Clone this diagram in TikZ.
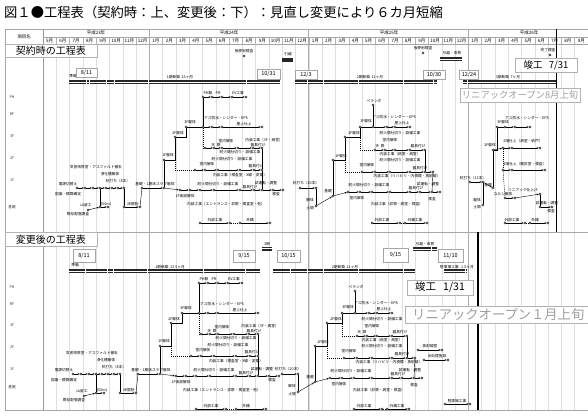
\documentclass[tikz,border=0pt]{standalone}
\usepackage{fontspec}
\setmainfont{Noto Sans CJK JP}
\usetikzlibrary{arrows.meta}
\tikzset{
 tl/.style={font=\fontsize{3.7}{4.1}\selectfont, inner sep=0pt},
 flr/.style={font=\fontsize{3.6}{4}\selectfont, inner sep=0pt, text=black!80},
 mon/.style={font=\fontsize{4.5}{5}\selectfont, inner sep=0pt},
 ev/.style={circle, draw=black, fill=white, line width=0.3pt, minimum size=2.2pt, inner sep=0pt},
 act/.style={line width=0.4pt, -{Stealth[length=2.2pt,width=1.8pt]}},
 lnk/.style={line width=0.4pt},
 dsh/.style={line width=0.4pt, dash pattern=on 1.2pt off 0.8pt},
 datebox/.style={draw=gray!70, fill=white, line width=0.4pt, font=\fontsize{5.5}{6}\selectfont, inner sep=0pt},
 bigbox/.style={draw=gray!60, fill=white, line width=0.5pt, inner sep=0pt},
 barfill/.style={fill=black!85},
 barline/.style={draw=white, line width=0.35pt},
 tick/.style={draw=white, line width=0.8pt},
 grid/.style={draw=gray!25, line width=0.3pt},
 frame/.style={draw=gray!70, line width=0.5pt},
}
\newcommand{\PhaseOne}[1]{%
\node[tl] (#1t1) at (96,167) {気密改修室・アスファルト撤去};
\node[tl] (#1t2) at (110,174) {浄化槽解体};
\node[tl] (#1t3) at (118,181) {杭打ち（8本）};
\node[tl] (#1t4) at (155,184.5) {基礎・1期床スラブ躯体};
\node[tl] (#1t5) at (68,184) {電源切替え};
\node[tl] (#1t6) at (68,194) {図面・積算確定};
\node[tl] (#1t7) at (86,205) {山留工};
\node[tl] (#1t8) at (106,204) {(50m)};
\node[tl] (#1t9) at (78,214) {既存配管調査};
\node[tl] (#1t10) at (133,204) {床掘削};
\node[tl] (#1t11) at (168,155) {1F躯体};
\node[tl] (#1t12) at (178,133) {2F躯体};
\node[tl] (#1t13) at (190,122) {3F躯体};
\node[tl] (#1t14) at (208,93) {PH躯};
\node[tl] (#1t15) at (218,93) {PR};
\node[tl] (#1t16) at (238,93) {EV工事};
\node[tl] (#1t17) at (226,118) {アス防水・シンダー・EPS};
\node[tl] (#1t18) at (244,124) {屋上仕上};
\node[tl] (#1t19) at (226,141) {室内解体};
\node[tl] (#1t20) at (264,140) {内装工事（3F・病室）};
\node[tl] (#1t21) at (216,145) {天\ \ 鉄};
\node[tl] (#1t22) at (258,145) {器具付け};
\node[tl] (#1t23) at (240,152.5) {耐火間仕切り・設備工事};
\node[tl] (#1t24) at (232,159) {耐火間仕切り・設備工事};
\node[tl] (#1t25) at (207,164) {室内解体};
\node[tl] (#1t26) at (256,166.5) {器具付け};
\node[tl] (#1t27) at (240,175.5) {内装工事（検査室・X線・変電）};
\node[tl] (#1t28) at (218,184) {耐火間仕切り・設備工事};
\node[tl] (#1t29) at (266,183.5) {試運転・調整};
\node[tl] (#1t30) at (185,196) {1F仮設解体};
\node[tl] (#1t31) at (250,187) {器具付け};
\node[tl] (#1t32) at (276,194) {検査};
\node[tl] (#1t33) at (226,204) {内装工事（エントランス・診察・検査室・他）};
\node[tl] (#1t34) at (215,220) {外部工事};
\node[tl] (#1t35) at (250,220) {外構};
\foreach \n/\x/\y in {a/77/188,b/85/188,c/93/188,d/100/188,e/106/188,f/112/188,g/118/188,h/124/188,i/124/207,j/140/207,k/142/188,l/164/188,m/100/207,n/108/207,o/88/210,q/164/160,r/175/137,s/186/127,u/203/127,t/203/97,ph1/212/97,ph2/222/97,ph3/232/97,ph4/246/97,w1/212/127,w2/222/127,w3/262/127,x1/205/148,x2/214/148,x3/222/148,x4/238/148,x5/253/148,x6/262/148,y1/195/170,y2/205/170,y3/218/170,y4/240/170,y5/254/170,y6/262/170,z1/180/190,z2/190/190,z3/200/190,z4/214/190,z5/240/190,z6/254/190,z7/262/190,z8/273/190,z9/283/190,v1/200/223,v2/230/223,v3/240/223,v4/270/223}
  \node[ev] (#1\n) at (\x,\y) {};
\foreach \s/\e in {a/b,b/c,c/d,d/e,e/f,f/g,g/h,i/j,k/l,m/n,o/m,t/ph1,ph1/ph2,ph2/ph3,ph3/ph4,u/w1,w1/w2,w2/w3,x1/x2,x2/x3,x3/x4,x4/x5,x5/x6,y1/y2,y2/y3,y3/y4,y4/y5,y5/y6,z1/z2,z2/z3,z3/z4,z4/z5,z5/z6,z6/z7,z7/z8,z8/z9,v1/v2,v3/v4,l/z1}
  \draw[act] (#1\s) -- (#1\e);
\draw[lnk] (#1h) -- (#1i);
\draw[lnk] (#1j) -- (#1k);
\draw[lnk] (#1d) -- (#1m);
\draw[lnk] (#1l) -- (#1q);
\draw[lnk] (#1q) -| (#1r);
\draw[lnk] (#1r) -| (#1s);
\draw[lnk] (#1s) -- (#1u);
\draw[lnk] (#1u) -- (#1t);
\draw[dsh] (#1u) |- (#1x1);
\draw[dsh] (#1r) |- (#1y1);
\draw[lnk] (#1x6) -- (#1y6);
\draw[lnk] (#1y6) -- (#1z7);
\draw[dsh] (#1v2) -- (#1v3);
}
\newcommand{\PhaseTwo}[1]{%
\node[tl] (#1t1) at (306,183) {杭打ち（20本）};
\node[tl] (#1t2) at (310,200) {解体};
\node[tl] (#1t3) at (310,208) {土間};
\node[tl] (#1t4) at (328,191) {基礎};
\node[tl] (#1t5) at (341,156) {1F躯体};
\node[tl] (#1t6) at (354,133) {2F躯体};
\node[tl] (#1t7) at (366,121.5) {3F躯体};
\node[tl] (#1t8) at (374,101) {ベランダ};
\node[tl] (#1t9) at (394,117) {アス防水・シンダー・EPS};
\node[tl] (#1t10) at (402,123.5) {屋上仕上};
\node[tl] (#1t11) at (400,133) {耐火間仕切り・設備工事};
\node[tl] (#1t12) at (390,140) {室内解体};
\node[tl] (#1t13) at (380,146) {天\ \ 鉄};
\node[tl] (#1t14) at (418,146) {器具付け};
\node[tl] (#1t15) at (400,154) {内装工事（病室・病室）};
\node[tl] (#1t16) at (400,160) {耐火間仕切り・設備工事};
\node[tl] (#1t17) at (367,165) {室内解体};
\node[tl] (#1t18) at (420,168) {器具付け};
\node[tl] (#1t19) at (407,176.5) {内装工事（リハビリ・内視鏡・放射線）};
\node[tl] (#1t20) at (369,185) {耐火間仕切り・設備工事};
\node[tl] (#1t21) at (428,184.5) {試運転・調整};
\node[tl] (#1t22) at (416,188.5) {器具付け};
\node[tl] (#1t23) at (357,198) {室内解体};
\node[tl] (#1t24) at (432,199) {検査};
\node[tl] (#1t25) at (397,204) {内装工事（診察・病室・検査）};
\node[tl] (#1t26) at (382,220) {外部工事};
\node[tl] (#1t27) at (415,220) {外構工事};
\foreach \n/\x/\y in {a/300/188,b/316/188,c/316/206,d/333/196,e/333/160,f/345/137,g/360/127,h/373/127,i/373/105,j/387/127,k/395/127,l/410/127,m1/375/150,m2/385/150,m3/395/150,m4/410/150,m5/425/150,n1/362/172,n2/375/172,n3/390/172,n4/410/172,n5/425/172,n6/433/172,o1/348/192,o2/360/192,o3/372/192,o4/390/192,o5/410/192,o6/420/192,o7/432/192,o8/440/192,p1/372/223,p2/400/223,p3/405/223,p4/427/223}
  \node[ev] (#1\n) at (\x,\y) {};
\foreach \s/\e in {a/b,c/d,h/j,j/k,k/l,m1/m2,m2/m3,m3/m4,m4/m5,n1/n2,n2/n3,n3/n4,n4/n5,n5/n6,o1/o2,o2/o3,o3/o4,o4/o5,o5/o6,o6/o7,o7/o8,p1/p2,p3/p4,d/o1}
  \draw[act] (#1\s) -- (#1\e);
\draw[lnk] (#1b) -- (#1c);
\draw[lnk] (#1d) -- (#1e);
\draw[lnk] (#1e) -| (#1f);
\draw[lnk] (#1f) -| (#1g);
\draw[lnk] (#1g) -- (#1h);
\draw[lnk] (#1h) -- (#1i);
\draw[dsh] (#1g) |- (#1m1);
\draw[dsh] (#1f) |- (#1n1);
\draw[lnk] (#1m5) -- (#1n5);
\draw[lnk] (#1n6) -- (#1o7);
\draw[dsh] (#1p2) -- (#1p3);
}
\newcommand{\PhaseThree}[1]{%
\node[tl] (#1t1) at (473,178) {杭打ち（13本）};
\node[tl] (#1t2) at (477,200) {躯体};
\node[tl] (#1t3) at (477,207) {土間};
\node[tl] (#1t4) at (488,185) {基礎};
\node[tl] (#1t5) at (490,145) {2F躯体};
\node[tl] (#1t6) at (503,122) {3F躯体};
\node[tl] (#1t7) at (527,118) {アス防水・シンダー・EPS};
\node[tl] (#1t8) at (523,141) {2階仕上（病室・納戸）};
\node[tl] (#1t9) at (525,164) {1階仕上（健診室・検査）};
\node[tl] (#1t10) at (523,190) {リニアック仕上げ};
\node[tl] (#1t11) at (503,194.5) {ならし躯体};
\node[tl] (#1t12) at (547,203) {試運転・調整};
\node[tl] (#1t13) at (551,211) {検査};
\node[tl] (#1t14) at (512,220) {外部工事};
\node[tl] (#1t15) at (535,220) {外構};
\foreach \n/\x/\y in {a/470/182,b/483/182,c/483/205,d/493/188,e/493/150,f/497/127,g/505/127,h/515/127,i/530/127,j/503/148,k/512/148,l/540/148,m/503/170,n/512/170,o/545/170,p/505/198,q/515/198,r/540/194,s/540/207,t/552/207,u1/505/223,u2/525/223,u3/530/223,u4/548/223}
  \node[ev] (#1\n) at (\x,\y) {};
\foreach \s/\e in {a/b,b/d,g/h,h/i,j/k,k/l,m/n,n/o,p/q,q/r,s/t,u1/u2,u3/u4,e/j}
  \draw[act] (#1\s) -- (#1\e);
\draw[lnk] (#1b) -- (#1c);
\draw[lnk] (#1d) -- (#1e);
\draw[lnk] (#1e) -| (#1f);
\draw[lnk] (#1f) -- (#1g);
\draw[dsh] (#1j) -- (#1m);
\draw[dsh] (#1m) -- (#1p);
\draw[lnk] (#1r) -- (#1s);
\draw[dsh] (#1u2) -- (#1u3);
}
\begin{document}
\begin{tikzpicture}[x=1pt,y=-1pt]
\useasboundingbox (0,0) rectangle (588,418);
\fill[white] (0,0) rectangle (588,418);
% title
\node[anchor=west, inner sep=0pt, font=\fontsize{13.3}{14}\selectfont] (title) at (4,12) {図１●工程表（契約時：上、変更後：下）：見直し変更により６カ月短縮};
% grid
\foreach \i in {1,...,40} \draw[grid] ({43+13.29*\i},44) -- ({43+13.29*\i},410);
\foreach \i in {0,...,40} \draw[gray!60, line width=0.3pt] ({43+13.29*\i},37) -- ({43+13.29*\i},44);
\draw[frame] (5,29) -- (588,29);
\draw[frame] (43,37) -- (588,37);
\draw[frame] (5,44) -- (588,44);
\draw[frame] (5,29) -- (5,410);
\draw[draw=gray!80, line width=0.6pt] (43,29) -- (43,410);
\draw[frame] (5,410) -- (588,410);
\draw[frame] (5,232) -- (588,232);
\foreach \i in {8,20,32} \draw[draw=gray!65, line width=0.7pt] ({43+13.29*\i},29) -- ({43+13.29*\i},410);
% header text
\node[mon] (hdr) at (24,37) {項目名};
\node[mon] (y23) at (96,33) {平成23年};
\node[mon] (y24) at (229,33) {平成24年};
\node[mon] (y25) at (389,33) {平成25年};
\node[mon] (y26) at (529,33) {平成26年};
\foreach \m [count=\i from 0] in {5,6,7,8,9,10,11,12,1,2,3,4,5,6,7,8,9,10,11,12,1,2,3,4,5,6,7,8,9,10,11,12,1,2,3,4,5,6,7,8,9}
  \node[mon] (mo\i) at ({49.65+13.29*\i},40.5) {\m 月};
% floor labels
\foreach \t/\y [count=\k] in {PH/97,RF/114,3F/136,2F/158,1F/180,基礎/207}
  \node[flr] (fa\k) at (12,\y) {\t};
\foreach \t/\y [count=\k] in {PH/287,RF/304,3F/325,2F/347,1F/369,基礎/387}
  \node[flr] (fb\k) at (12,\y) {\t};
% section boxes
\node[bigbox, minimum width=92pt, minimum height=13pt, font=\fontsize{10}{11}\selectfont] (secA) at (51,50.5) {契約時の工程表};
\node[bigbox, minimum width=92pt, minimum height=14pt, font=\fontsize{10}{11}\selectfont] (secB) at (51,239.5) {変更後の工程表};

% ===== TOP: contract schedule =====
\node[tl] (insA1) at (244,51) {仮使用検査};
\node[ev] (insA1c) at (244,56) {};
\node[tl] (movA) at (288,54) {引越};
\fill[barfill] (282,58) rectangle (293,61.5);
\node[tl] (insA2) at (423,48) {仮使用検査};
\node[ev] (insA2c) at (423,53) {};
\node[tl] (movA2) at (452,53) {引越・改修};
\fill[barfill] (440,57) rectangle (462,61);
\draw[white, line width=0.3pt] (440,59) -- (462,59);
\node[tl] (doneA) at (548,50) {完了検査};
\node[ev] (doneAc) at (550,55) {};
% bars
\fill[barfill] (69,80) rectangle (280,84);
\fill[barfill] (295,80) rectangle (437,84);
\fill[barfill] (463,80) rectangle (557,84);
\draw[barline] (69,82) -- (280,82);
\draw[barline] (295,82) -- (437,82);
\draw[barline] (463,82) -- (557,82);
\foreach \x in {86,89,106,114,148,246,307,323,358,403,433,467}
  \draw[tick] (\x,79.5) -- (\x,84.5);
\node[tl] (prepA) at (73,76.5) {準備};
\node[tl] (b1A) at (180,77) {1期新築\ \ 15ヶ月};
\node[tl] (b2A) at (370,77) {2期新築\ \ 11ヶ月};
\node[tl] (b3A) at (508,77) {3期新築\ \ 7ヶ月};
\node[datebox, minimum width=21pt, minimum height=9pt] (dA1) at (86.5,72.5) {8/11};
\node[datebox, minimum width=23pt, minimum height=10pt] (dA2) at (268.5,74) {10/31};
\node[datebox, minimum width=22pt, minimum height=9pt] (dA3) at (306,74.5) {12/3};
\node[datebox, minimum width=22pt, minimum height=9pt] (dA4) at (434,74.5) {10/30};
\node[datebox, minimum width=19pt, minimum height=9pt] (dA5) at (469,74.5) {12/24};
% completion line
\draw[black, line width=1.8pt] (556.5,29) -- (556.5,232);
\node[bigbox, minimum width=62pt, minimum height=14pt, font=\fontsize{9.5}{10}\selectfont] (endA) at (546,65) {竣工\ \ \ 7/31};
\node[bigbox, minimum width=120pt, minimum height=14pt, font=\fontsize{9.3}{10}\selectfont, text=gray!75] (openA) at (520,95) {リニアックオープン8月上旬};
% networks
\PhaseOne{A}
\PhaseTwo{B}
\PhaseThree{C}

% ===== BOTTOM: revised schedule =====
\fill[barfill] (69,269) rectangle (260,273);
\fill[barfill] (273,269) rectangle (415,273);
\fill[barfill] (444,269) rectangle (467,273);
\draw[barline] (69,271) -- (260,271);
\draw[barline] (273,271) -- (415,271);
\draw[barline] (444,271) -- (467,271);
\foreach \x in {85,107,113,147,203,245,290,307,323,358,403,465}
  \draw[tick] (\x,268.5) -- (\x,273.5);
\fill[barfill] (262,246.5) rectangle (272,250.5);
\draw[white, line width=0.3pt] (262,248.5) -- (272,248.5);
\node[tl] (p3B) at (267,244) {3期};
\fill[barfill] (413,247) rectangle (437,251);
\draw[white, line width=0.3pt] (413,249) -- (437,249);
\draw[tick] (431,246.5) -- (431,251.5);
\node[tl] (movB) at (425,244) {引越・改修};
\node[tl] (prepB) at (75,265.5) {準備};
\node[tl] (b1B) at (170,267) {1期新築\ \ 13.5ヶ月};
\node[tl] (b2B) at (345,267) {2期新築\ \ 11ヶ月};
\node[tl] (b3B) at (457,267) {駐車場工事\ \ \ 1.5ヶ月};
\node[datebox, minimum width=22pt, minimum height=13pt] (dB1) at (84,255.5) {8/11};
\node[datebox, minimum width=22pt, minimum height=12pt] (dB2) at (244,256) {9/15};
\node[datebox, minimum width=23pt, minimum height=12pt] (dB3) at (288.5,256) {10/15};
\node[datebox, minimum width=25pt, minimum height=14pt] (dB4) at (395.5,255) {9/15};
\node[datebox, minimum width=25pt, minimum height=13pt] (dB5) at (450.5,255.5) {11/10};
\draw[black, line width=1.8pt] (478,232) -- (478,410);
% networks
\begin{scope}[shift={(-4,186)}]
\PhaseOne{D}
\end{scope}
\begin{scope}[shift={(-18,186)}]
\PhaseTwo{E}
\end{scope}
\node[tl] (xr1) at (430,346) {放射線室};
\node[ev] (xr1a) at (418,350) {};
\node[ev] (xr1b) at (442,350) {};
\draw[act] (xr1a) -- (xr1b);
\node[tl] (xr2) at (437,356) {水処理施設};
\node[ev] (xr2a) at (424,360) {};
\node[ev] (xr2b) at (448,360) {};
\draw[act] (xr2a) -- (xr2b);
\node[tl] (park) at (457,401) {駐車場工事};
\node[ev] (parka) at (445,404) {};
\node[ev] (parkb) at (470,404) {};
\draw[act] (parka) -- (parkb);
\node[bigbox, minimum width=66pt, minimum height=15pt, font=\fontsize{10.5}{11}\selectfont] (endB) at (440,287.5) {竣工\ \ \ 1/31};
\node[bigbox, anchor=west, minimum width=186pt, minimum height=17pt, font=\fontsize{13.3}{14}\selectfont, text=gray!75] (openB) at (405,314.5) {リニアックオープン１月上旬};
\end{tikzpicture}
\end{document}
